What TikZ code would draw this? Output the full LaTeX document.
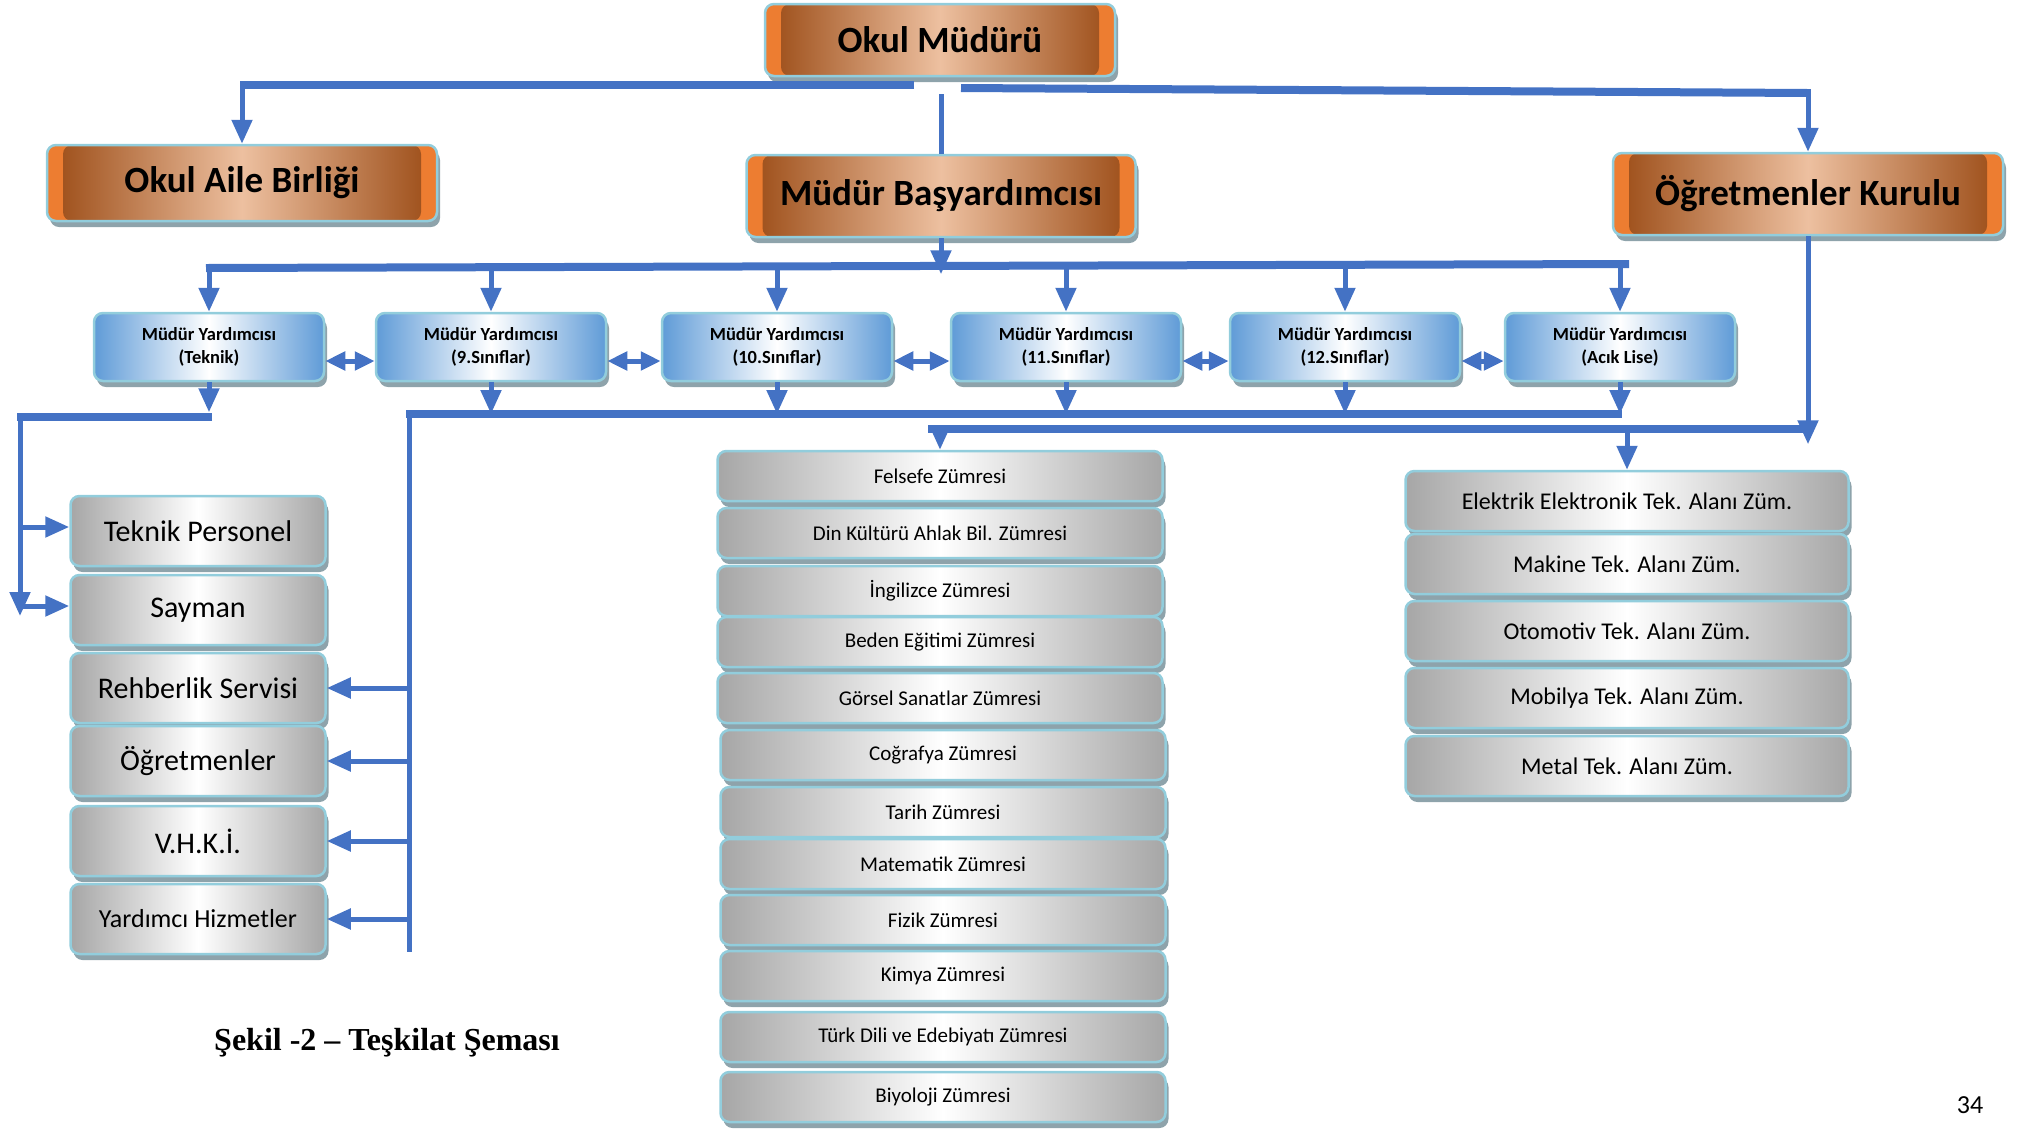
\documentclass[tikz,border=0pt]{standalone}
\usepackage{fontspec}
\setmainfont{Carlito}
\newfontfamily\timesfont{Liberation Serif}
\usetikzlibrary{arrows.meta,shadows}

\definecolor{hatmavi}{HTML}{4472C4}
\definecolor{kenar}{HTML}{92CDDC}
\definecolor{turuncu}{HTML}{ED7D31}
\definecolor{kahve}{HTML}{9A4A14}
\definecolor{seftali}{HTML}{EDC0A0}
\definecolor{mavikoyu}{HTML}{5F9BD7}
\definecolor{grikoyu}{HTML}{A6A6A6}
\definecolor{golge}{HTML}{8EA3AB}

\tikzset{
  kutu/.style={rounded corners=9pt, draw=kenar, line width=2.5pt, inner sep=0pt, align=center,
    drop shadow={shadow xshift=3pt, shadow yshift=-6pt, fill=golge, opacity=1}},
  ana/.style={kutu, fill=turuncu, font=\fontsize{37}{40}\selectfont\bfseries,
    path picture={\shade[left color=kahve, right color=kahve, middle color=seftali]
      ([xshift=16pt]path picture bounding box.south west) rectangle ([xshift=-16pt]path picture bounding box.north east);}},
  yrd/.style={kutu, left color=mavikoyu, right color=mavikoyu, middle color=white,
    minimum width=230pt, minimum height=68pt, font=\fontsize{18.5}{23}\selectfont\bfseries},
  zumre/.style={kutu, left color=grikoyu, right color=grikoyu, middle color=white},
  okcizgi/.style={hatmavi, line width=5pt, -{Triangle[width=20pt,length=24pt]}},
  cizgi/.style={hatmavi, line width=5pt},
  bara/.style={hatmavi, line width=8pt},
  cift/.style={hatmavi, line width=5pt, {Triangle[width=18pt,length=20pt]}-{Triangle[width=18pt,length=20pt]}}
}

\begin{document}
\begin{tikzpicture}[x=1pt, y=-1pt]
\useasboundingbox (0,0) rectangle (2018,1128);
%Üst kutular
\node[ana, minimum width=350pt, minimum height=72pt] (om) at (940,40) {Okul Müdürü};
\node[ana, minimum width=390pt, minimum height=76pt] (oab) at (242,183) {Okul Aile Birliği};
\node[ana, minimum width=389pt, minimum height=82pt] (mb) at (941,196) {Müdür Başyardımcısı};
\node[ana, minimum width=390pt, minimum height=82pt] (ogk) at (1808,194) {Öğretmenler Kurulu};

%Müdür yardımcıları
\foreach \x/\t [count=\i] in {209/Teknik, 491/9.Sınıflar, 777/10.Sınıflar, 1066/11.Sınıflar, 1345/12.Sınıflar, 1620/Acık Lise}
\node[yrd] (my\i) at (\x,347) {Müdür Yardımcısı\\(\t)};

%Sol sütun
\foreach \y/\n/\s/\t in {531/tp/30/Teknik Personel, 610/say/30/Sayman, 688/rs/30/Rehberlik Servisi, 761/ogr/30/Öğretmenler,
  841/vhki/30/V.H.K.İ., 919/yh/26/Yardımcı Hizmetler}
\node[zumre, minimum width=255pt, minimum height=70pt, font=\fontsize{\s}{34}\selectfont] (\n) at (198,\y) {\t};

%Zümreler
\foreach \x/\y/\t [count=\i] in {940/476/Felsefe Zümresi, 940/533/Din Kültürü Ahlak Bil. Zümresi, 940/591/İngilizce Zümresi,
  940/642/Beden Eğitimi Zümresi, 940/698/Görsel Sanatlar Zümresi, 943/755/Coğrafya Zümresi, 943/812/Tarih Zümresi,
  943/864/Matematik Zümresi, 943/920/Fizik Zümresi, 943/976/Kimya Zümresi, 943/1037/Türk Dili ve Edebiyatı Zümresi,
  943/1097/Biyoloji Zümresi}
\node[zumre, minimum width=445pt, minimum height=50pt, font=\fontsize{21}{24}\selectfont] (z\i) at (\x,\y) {\t};

%Teknik alanlar
\foreach \y/\t [count=\i] in {501/Elektrik Elektronik Tek. Alanı Züm., 564/Makine Tek. Alanı Züm., 631/Otomotiv Tek. Alanı Züm.,
  698/Mobilya Tek. Alanı Züm., 766/Metal Tek. Alanı Züm.}
\node[zumre, minimum width=443pt, minimum height=60pt, font=\fontsize{24}{28}\selectfont] (e\i) at (1627,\y) {\t};

\node[font=\timesfont\bfseries\fontsize{32}{36}\selectfont] (baslik) at (387,1043) {Şekil -2 – Teşkilat Şeması};
\node[font=\fontsize{26}{30}\selectfont] (sayfa) at (1970,1105) {34};

%Bağlantılar
\coordinate (a1) at (914,85);
\coordinate (a2) at (961,88);
\coordinate (a3) at (1808,93);
\draw[bara] (a1) -- (oab.north |- a1);
\draw[okcizgi] ([yshift=4pt]oab.north |- a1) -- (oab.north);
\draw[cizgi] ([yshift=-6pt]mb.north |- a2) -- (mb.north);
\draw[bara] (a2) -- (a3);
\draw[okcizgi] ([yshift=4pt]a3) -- (ogk.north);

\coordinate (b1) at (206,268);
\coordinate (b2) at (1629,264);
\draw[bara] (b1) -- (b2);
\draw[okcizgi] (mb.south) -- ++(0,36);
\foreach \i in {1,...,6}
\draw[okcizgi] (my\i.north |- 0,266) -- (my\i.north);
\foreach \i/\j in {1/2, 2/3, 3/4, 4/5, 5/6}
\draw[cift] ([yshift=-14pt]my\i.east) -- ([yshift=-14pt]my\j.west);

\coordinate (t1) at (20,417);
\draw[okcizgi] (my1.south) -- ++(0,30);
\draw[bara] ([xshift=3pt]my1.south |- t1) -- ([xshift=-3pt]t1);
\draw[okcizgi] ([yshift=4pt]t1) -- (20,616);
\draw[okcizgi] (t1 |- 0,527) -- (tp.west |- 0,527);
\draw[okcizgi] (t1 |- 0,606) -- (say.west |- 0,606);

\coordinate (s1) at (409,414);
\draw[bara] ([xshift=-3pt]s1) -- (1622,414);
\foreach \i in {2,...,6}
\draw[okcizgi] (my\i.south) -- (my\i.south |- s1);
\draw[cizgi] ([yshift=4pt]s1) -- (409,952);
\foreach \n in {rs, ogr, vhki, yh}
\draw[okcizgi] (s1 |- \n.east) -- (\n.east);

\coordinate (u1) at (928,429);
\draw[bara] (u1) -- ([xshift=3pt]ogk.south |- u1);
\draw[okcizgi] (ogk.south) -- ++(0,208);
\draw[okcizgi] (z1.north |- u1) -- (z1.north);
\draw[okcizgi] (e1.north |- u1) -- (e1.north);
\end{tikzpicture}
\end{document}
